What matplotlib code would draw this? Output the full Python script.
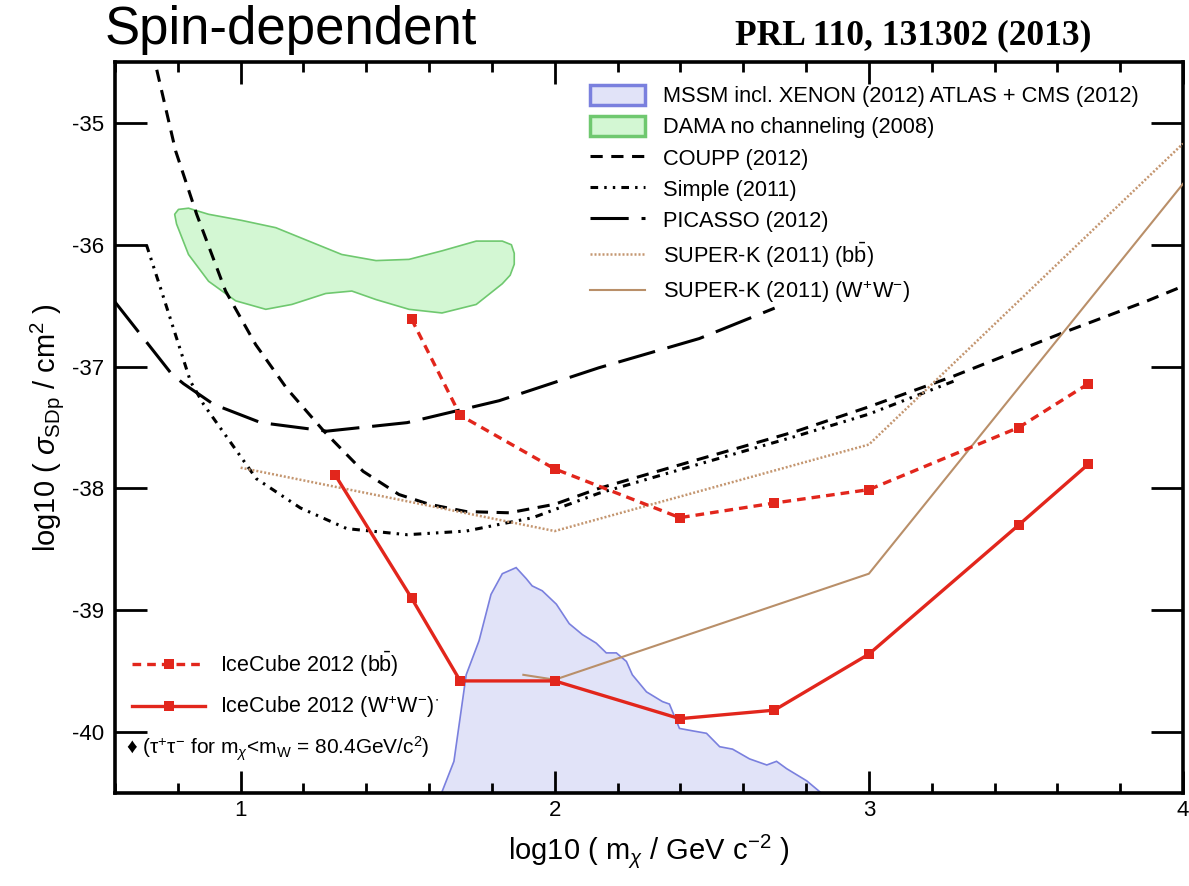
import matplotlib
matplotlib.use("Agg")
import matplotlib.pyplot as plt
from matplotlib.patches import Patch, Polygon
import numpy as np

# ---------------- data ----------------
ice_ww_x = [1.301, 1.544, 1.699, 2.0, 2.398, 2.699, 3.0, 3.477, 3.699]
ice_ww_y = [-37.89, -38.90, -39.58, -39.58, -39.89, -39.82, -39.36, -38.30, -37.80]

ice_bb_x = [1.544, 1.699, 2.0, 2.398, 2.699, 3.0, 3.477, 3.699]
ice_bb_y = [-36.61, -37.40, -37.84, -38.24, -38.12, -38.01, -37.50, -37.14]

superk_ww_x = [1.90, 2.0, 3.0, 4.0]
superk_ww_y = [-39.53, -39.57, -38.70, -35.50]

superk_bb_x = [1.0, 2.0, 3.0, 4.0]
superk_bb_y = [-37.83, -38.35, -37.64, -35.17]

coupp_x = [0.715, 0.729, 0.793, 0.86, 0.952, 1.048, 1.147, 1.265, 1.39, 1.504, 1.60,
           1.718, 1.855, 2.0, 2.14, 2.46, 2.77, 3.0, 3.268, 3.62, 3.887, 4.0]
coupp_y = [-34.40, -34.52, -35.23, -35.75, -36.38, -36.82, -37.18, -37.53, -37.86, -38.05, -38.13,
           -38.19, -38.20, -38.13, -38.00, -37.76, -37.53, -37.33, -37.08, -36.72, -36.46, -36.34]

simple_x = [0.70, 0.748, 0.84, 0.882, 1.05, 1.19, 1.338, 1.53, 1.718, 1.93, 2.14, 2.46, 2.77, 3.0, 3.27]
simple_y = [-36.00, -36.38, -37.12, -37.31, -37.92, -38.16, -38.33, -38.38, -38.35, -38.24,
            -38.04, -37.80, -37.57, -37.39, -37.12]

picasso_x = [0.6, 0.78, 0.818, 0.914, 1.064, 1.274, 1.53, 1.823, 2.14, 2.46, 2.70]
picasso_y = [-36.47, -37.06, -37.14, -37.31, -37.46, -37.53, -37.46, -37.28, -37.01, -36.77, -36.52]

dama_x = [0.802, 0.834, 0.898, 1.003, 1.112, 1.217, 1.322, 1.431, 1.536, 1.641, 1.750, 1.833,
          1.862, 1.871, 1.871, 1.858, 1.833, 1.750, 1.641, 1.536, 1.431, 1.354, 1.271, 1.163, 1.080, 0.984,
          0.898, 0.834, 0.796, 0.790]
dama_y = [-35.71, -35.70, -35.75, -35.80, -35.86, -35.97, -36.08, -36.13, -36.12, -36.05, -35.97, -35.97,
          -36.00, -36.07, -36.16, -36.25, -36.32, -36.49, -36.56, -36.53, -36.45, -36.38, -36.40, -36.49,
          -36.53, -36.46, -36.30, -36.08, -35.83, -35.75]

mssm_x = [1.638, 1.679, 1.718, 1.759, 1.797, 1.833, 1.877, 1.909, 1.928, 1.960, 2.005, 2.046, 2.088,
          2.132, 2.164, 2.196, 2.228, 2.247, 2.292, 2.343, 2.365, 2.397, 2.439, 2.483, 2.525, 2.566,
          2.62, 2.675, 2.706, 2.738, 2.802, 2.853]
mssm_y = [-40.51, -40.24, -39.53, -39.25, -38.87, -38.70, -38.65, -38.74, -38.80, -38.84, -38.95, -39.11,
          -39.20, -39.27, -39.35, -39.35, -39.42, -39.53, -39.67, -39.75, -39.77, -39.97, -39.99, -40.01,
          -40.12, -40.14, -40.22, -40.27, -40.24, -40.30, -40.40, -40.51]

xlim = (0.6, 4.0)
ylim = (-40.5, -34.5)
xticks = [1, 2, 3, 4]
yticks = [-40, -39, -38, -37, -36, -35]

# ---------------- style ----------------
RED = "#e2261c"
TAN = "#b98f69"
TAN_DOT = "#c49670"
BLUE_EDGE = "#7a80de"
BLUE_FILL = "#e1e3f8"
GREEN_EDGE = "#6fc86f"
GREEN_FILL = "#d3f7d3"

SANS = ["Liberation Sans", "DejaVu Sans"]
plt.rcParams["font.family"] = SANS
plt.rcParams["mathtext.fontset"] = "custom"
plt.rcParams["mathtext.rm"] = "Liberation Sans"
plt.rcParams["mathtext.it"] = "Liberation Sans:italic"

fig = plt.figure(figsize=(11.89, 8.86), dpi=100)
ax = fig.add_axes([115/1189, 1-793/886, (1183-115)/1189, (793-62)/886])

# regions
mssm_poly = Polygon(np.column_stack([mssm_x, mssm_y]), closed=True,
                    facecolor=BLUE_FILL, edgecolor=BLUE_EDGE, lw=1.2, zorder=1)
ax.add_patch(mssm_poly)
dama_poly = Polygon(np.column_stack([dama_x, dama_y]), closed=True,
                    facecolor=GREEN_FILL, edgecolor=GREEN_EDGE, lw=1.2, zorder=1, joinstyle="round")
ax.add_patch(dama_poly)

# limit curves
l_coupp, = ax.plot(coupp_x, coupp_y, color="black", lw=2.2, ls=(0, (4.0, 2.8)), zorder=3)
l_simple, = ax.plot(simple_x, simple_y, color="black", lw=2.2, ls=(0, (2.5, 2.0, 0.8, 2.0, 0.8, 2.0)), zorder=3)
l_picasso, = ax.plot(picasso_x, picasso_y, color="black", lw=2.2, ls=(0, (12.5, 4.2)), zorder=3)
l_skbb, = ax.plot(superk_bb_x, superk_bb_y, color=TAN_DOT, lw=1.8, ls=(0, (0.8, 0.8)), zorder=3)
l_skww, = ax.plot(superk_ww_x, superk_ww_y, color=TAN, lw=1.5, zorder=3)

l_icebb, = ax.plot(ice_bb_x, ice_bb_y, color=RED, lw=2.4, ls=(0, (2.6, 1.8)), marker="s", ms=7,
                   markeredgewidth=0, zorder=4)
l_iceww, = ax.plot(ice_ww_x, ice_ww_y, color=RED, lw=2.4, marker="s", ms=7,
                   markeredgewidth=0, zorder=4)

ax.set_xlim(*xlim)
ax.set_ylim(*ylim)
ax.set_xticks(xticks)
ax.set_xticks(np.arange(0.6, 4.01, 0.2), minor=True)
ax.set_yticks(yticks)
ax.set_xticklabels([str(t) for t in xticks])
ax.set_yticklabels([str(t) for t in yticks])
ax.tick_params(axis="x", which="major", direction="in", length=16, width=2, top=True,
               labelsize=16, pad=5)
ax.tick_params(axis="x", which="minor", direction="in", length=7.5, width=2, top=True)
ax.tick_params(axis="y", which="major", direction="in", length=23, width=2, right=True,
               labelsize=16, pad=8)
for sp in ax.spines.values():
    sp.set_linewidth(2.6)

ax.set_xlabel(r"log10 ( m$_{\chi}$ / GeV c$^{-2}$ )", fontsize=21, labelpad=8)
ax.set_ylabel(r"log10 ( $\sigma_{\rm SDp}$ / cm$^{2}$ )", fontsize=21, labelpad=4)

# top-right legend
h_mssm = Patch(facecolor=BLUE_FILL, edgecolor=BLUE_EDGE, lw=2.5)
h_dama = Patch(facecolor=GREEN_FILL, edgecolor=GREEN_EDGE, lw=2.5)
leg1 = ax.legend([h_mssm, h_dama, l_coupp, l_simple, l_picasso, l_skbb, l_skww],
                 ["MSSM incl. XENON (2012) ATLAS + CMS (2012)",
                  "DAMA no channeling (2008)",
                  "COUPP (2012)",
                  "Simple (2011)",
                  "PICASSO (2012)",
                  r"SUPER-K (2011) (b$\bar{\rm b}$)",
                  r"SUPER-K (2011) (W$^{+}$W$^{-}$)"],
                 loc="upper left", bbox_to_anchor=(0.43, 0.99), frameon=False,
                 fontsize=15.7, handlelength=2.55, handleheight=1.05, handletextpad=0.8,
                 labelspacing=0.4, borderpad=0.2)
ax.add_artist(leg1)

leg2 = ax.legend([l_icebb, l_iceww],
                 [r"IceCube 2012 (b$\bar{\rm b}$)",
                  r"IceCube 2012 (W$^{+}$W$^{-}$)$^{\bullet}$"],
                 loc="upper left", bbox_to_anchor=(0.0, 0.22), frameon=False,
                 fontsize=15.5, handlelength=3.4, handletextpad=0.7, numpoints=1,
                 labelspacing=0.7, borderpad=0.3)

ax.text(0.010, 0.06, "\u2666 (\u03c4$^{+}$\u03c4$^{-}$ for m$_{\\chi}$<m$_{\\rm W}$ = 80.4GeV/c$^{2}$)",
        transform=ax.transAxes, fontsize=15, family=SANS, va="center", ha="left")

# header texts
fig.text(105/1189, 1-30/886, "Spin-dependent", fontsize=38, family=SANS, va="center", ha="left")
fig.text(735/1189, 1-36/886, "PRL 110, 131302 (2013)", fontsize=25.5, fontweight="bold",
         family=["Liberation Serif", "DejaVu Serif"], va="center", ha="left")

fig.savefig("out.png", dpi=100)
